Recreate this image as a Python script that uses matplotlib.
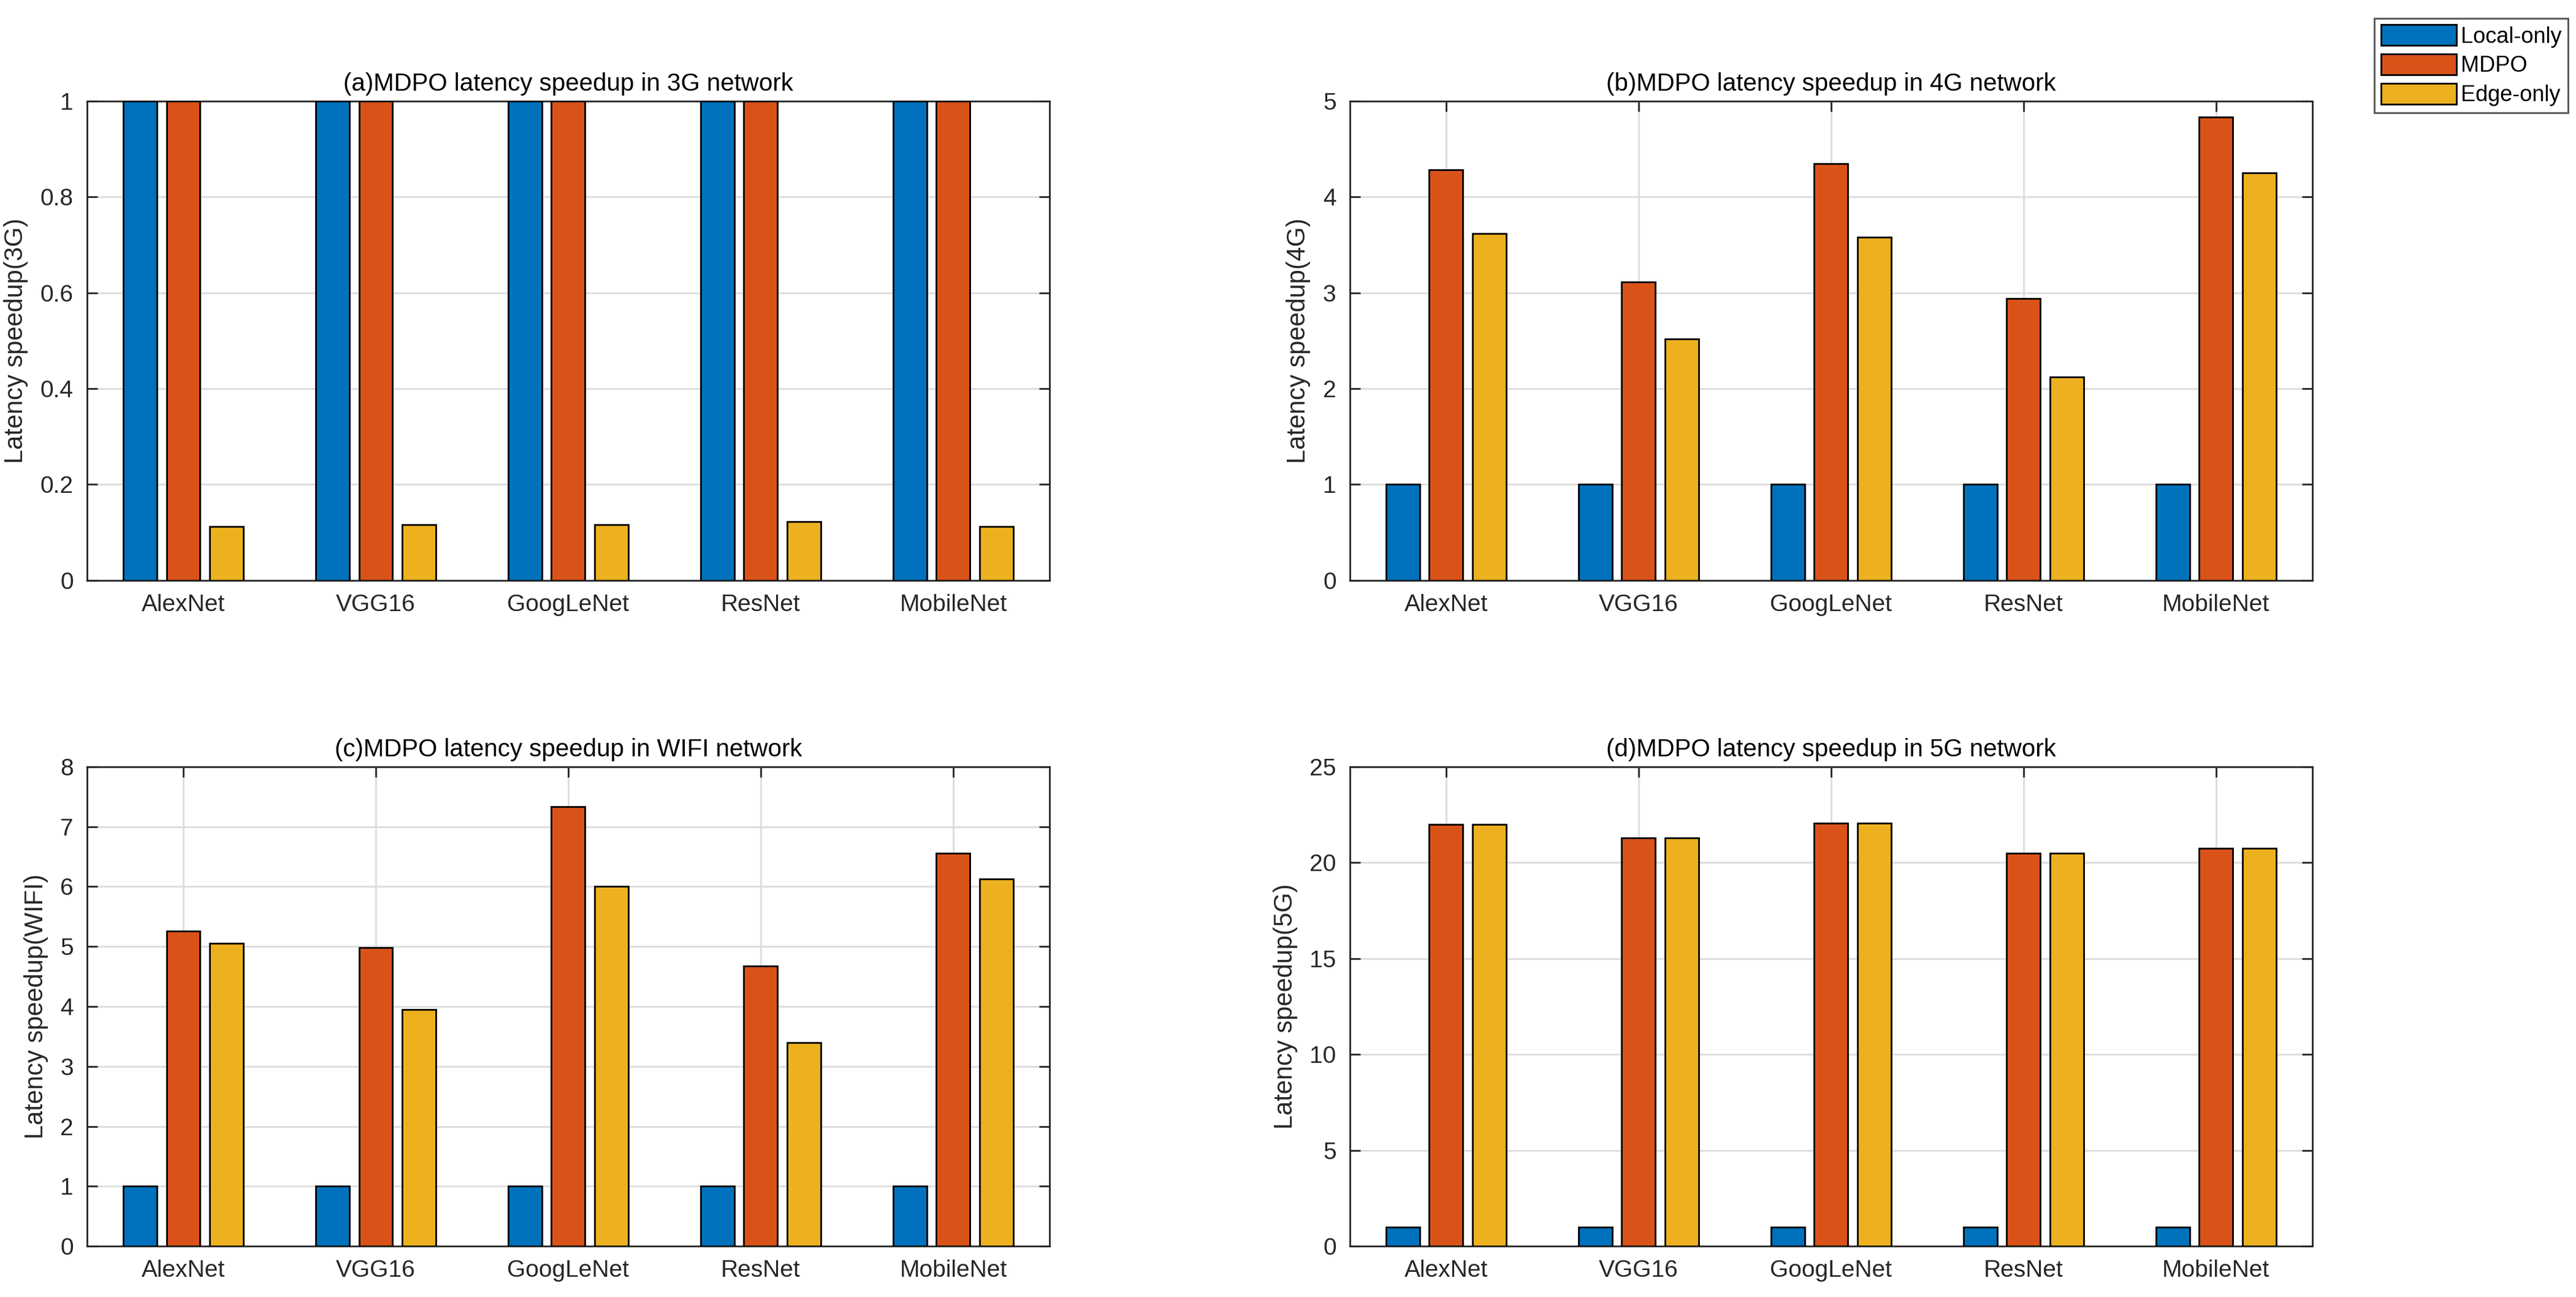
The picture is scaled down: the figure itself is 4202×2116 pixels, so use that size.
import numpy as np
import matplotlib
matplotlib.use("Agg")
import matplotlib.pyplot as plt
from matplotlib.ticker import FuncFormatter

# -----------------------------
# Dados
# -----------------------------
modelos = ["AlexNet", "VGG16", "GoogLeNet", "ResNet", "MobileNet"]
series = ["Local-only", "MDPO", "Edge-only"]

local_3g = [1, 1, 1, 1, 1]
mdpo_3g = [1, 1, 1, 1, 1]
edge_3g = [0.112, 0.116, 0.116, 0.122, 0.112]

local_4g = [1, 1, 1, 1, 1]
mdpo_4g = [4.28, 3.11, 4.35, 2.94, 4.83]
edge_4g = [3.62, 2.52, 3.58, 2.12, 4.25]

local_wifi = [1, 1, 1, 1, 1]
mdpo_wifi = [5.26, 4.98, 7.33, 4.68, 6.56]
edge_wifi = [5.05, 3.95, 6.00, 3.40, 6.13]

local_5g = [1, 1, 1, 1, 1]
mdpo_5g = [21.99, 21.28, 22.05, 20.49, 20.74]
edge_5g = [21.99, 21.28, 22.05, 20.49, 20.74]

titulos = ["(a)MDPO latency speedup in 3G network",
           "(b)MDPO latency speedup in 4G network",
           "(c)MDPO latency speedup in WIFI network",
           "(d)MDPO latency speedup in 5G network"]
ylabels = ["Latency speedup(3G)", "Latency speedup(4G)",
           "Latency speedup(WIFI)", "Latency speedup(5G)"]
yticks = [[0, 0.2, 0.4, 0.6, 0.8, 1],
          [0, 1, 2, 3, 4, 5],
          [0, 1, 2, 3, 4, 5, 6, 7, 8],
          [0, 5, 10, 15, 20, 25]]

dados = [(local_3g, mdpo_3g, edge_3g),
         (local_4g, mdpo_4g, edge_4g),
         (local_wifi, mdpo_wifi, edge_wifi),
         (local_5g, mdpo_5g, edge_5g)]

# cores padrao do MATLAB
cores = ["#0072BD", "#D95319", "#EDB120"]
cinza = "#262626"

plt.rcParams["font.family"] = ["Liberation Sans", "DejaVu Sans"]

# -----------------------------
# Figura
# -----------------------------
fig = plt.figure(figsize=(21.01, 10.58), dpi=200)

largura = 0.3736
altura = 0.3696
posicoes = [[0.0338, 0.5525, largura, altura],
            [0.524, 0.5525, largura, altura],
            [0.0338, 0.0392, largura, altura],
            [0.524, 0.0392, largura, altura]]

x = np.arange(1, len(modelos) + 1)
w = 0.175
desloc = [-0.225, 0, 0.225]

handles = None
for i in range(4):
    ax = fig.add_axes(posicoes[i])
    barras = []
    for j in range(3):
        b = ax.bar(x + desloc[j], dados[i][j], width=w, color=cores[j],
                   edgecolor="black", linewidth=1.0, label=series[j], zorder=3)
        barras.append(b)
    if handles is None:
        handles = barras

    ax.set_xlim(0.5, 5.5)
    ax.set_ylim(yticks[i][0], yticks[i][-1])
    ax.set_xticks(x)
    ax.set_xticklabels(modelos)
    ax.set_yticks(yticks[i])
    ax.yaxis.set_major_formatter(FuncFormatter(lambda v, p: "%g" % v))

    ax.grid(True, color="#dcdcdc", linewidth=1.0, zorder=0)
    ax.set_axisbelow(True)
    ax.tick_params(direction="in", length=6, width=1.0, colors=cinza,
                   labelsize=14, top=True, right=True, pad=8)
    for s in ax.spines.values():
        s.set_color(cinza)
        s.set_linewidth(1.0)

    ax.set_title(titulos[i], fontsize=14.5, color="black", pad=6)
    ax.set_ylabel(ylabels[i], fontsize=15, color=cinza, labelpad=7)

# legenda da figura
fig.legend(handles, series, loc="upper right", bbox_to_anchor=(0.997, 0.986),
           fontsize=13, frameon=True, fancybox=False, edgecolor=cinza,
           handlelength=3.4, handleheight=1.05, labelspacing=0.3,
           handletextpad=0.2, borderpad=0.3, borderaxespad=0)

plt.savefig("out.png", dpi=200)
